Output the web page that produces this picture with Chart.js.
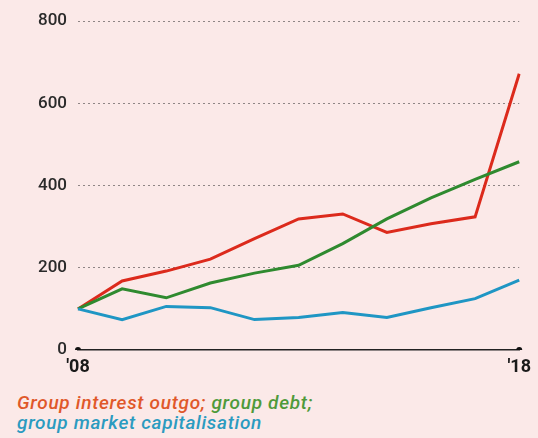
<!DOCTYPE html>
<html>
<head>
<meta charset="utf-8">
<script src="https://cdn.jsdelivr.net/npm/chart.js@4"></script>
<style>
  html, body { margin:0; padding:0; background:#fbe9e8; }
  #wrap { position:relative; width:538px; height:438px; background:#fbe9e8; }
  #c { position:absolute; left:0; top:0; }
  #legend { position:absolute; left:17px; top:393px; font-family:Roboto, "Noto Sans", sans-serif; font-style:italic; font-weight:500; font-size:19px; line-height:20px; letter-spacing:0.7px; }
  .r { color:#e0582a; } .g { color:#4f9a3a; } .b { color:#2b9bc0; }
</style>
</head>
<body>
<div id="wrap">
  <canvas id="c" width="538" height="380"></canvas>
  <div id="legend"><span class="r">Group interest outgo;</span> <span class="g">group debt;</span><br><span class="b">group market capitalisation</span></div>
</div>
<script>
const years = ["'08","'09","'10","'11","'12","'13","'14","'15","'16","'17","'18"];
const interestOutgo = [100, 168, 192, 221, 271, 319, 331, 286, 307, 324, 672];
const groupDebt = [100, 149, 127, 163, 187, 206, 259, 319, 370, 415, 458];
const marketCap = [100, 74, 106, 103, 74, 79, 91, 79, 103, 125, 170];
const yTicks = [0, 200, 400, 600, 800];
const axisDots = years.map((y, i) => (i === 0 || i === years.length - 1) ? 0 : null);

new Chart(document.getElementById('c'), {
  type: 'line',
  data: {
    labels: years,
    datasets: [
      { data: marketCap, borderColor: '#1f96c4', borderWidth: 3, pointRadius: 0, tension: 0 },
      { data: groupDebt, borderColor: '#2f8a2f', borderWidth: 3, pointRadius: 0, tension: 0 },
      { data: interestOutgo, borderColor: '#dc2a1c', borderWidth: 3, pointRadius: 0, tension: 0 },
      { data: axisDots, showLine: false, pointRadius: 3, pointBackgroundColor: '#111', pointBorderWidth: 0 }
    ]
  },
  options: {
    responsive: false,
    animation: false,
    layout: { padding: { top: 19, right: 17, left: 0, bottom: 0 } },
    plugins: { legend: { display: false }, tooltip: { enabled: false } },
    scales: {
      x: {
        offset: false,
        grid: { display: false, drawTicks: false },
        border: { display: true, color: '#222', width: 1.5 },
        afterFit: s => { s.height = 30; },
        ticks: {
          autoSkip: false, maxRotation: 0, padding: 7,
          color: '#1a1a1a',
          font: { family: 'Roboto', size: 18, weight: 'bold' },
          callback: (v, i) => (i === 0 || i === years.length - 1) ? years[i] : ''
        }
      },
      y: {
        min: 0, max: 800,
        afterFit: s => { s.width = 78; },
        afterBuildTicks: s => { s.ticks = yTicks.map(v => ({ value: v })); },
        border: { display: false, dash: [2, 3] },
        grid: {
          drawTicks: false,
          color: ctx => ctx.tick && ctx.tick.value === 0 ? 'rgba(0,0,0,0)' : '#8f8585',
          lineWidth: 1
        },
        ticks: {
          padding: 11, color: '#2a2a2a',
          font: { family: 'Roboto', size: 17, weight: '500' }
        }
      }
    }
  }
});
</script>
</body>
</html>
